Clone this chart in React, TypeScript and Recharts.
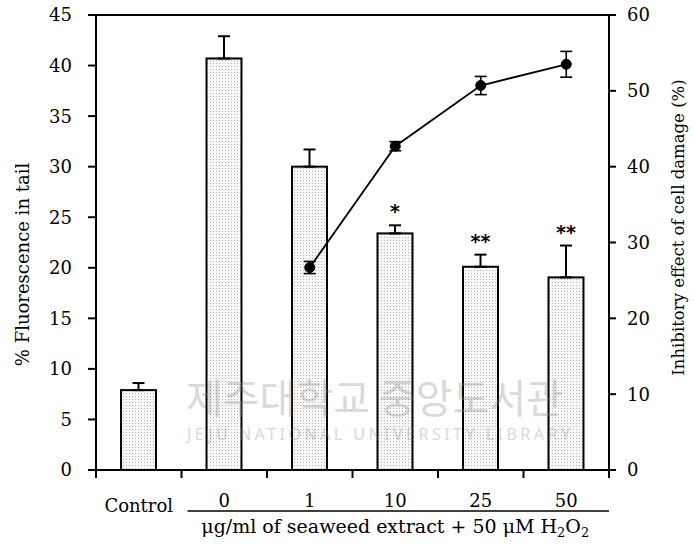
import React from 'react';
import { ComposedChart, Bar, Line, XAxis, YAxis, ErrorBar, ReferenceLine } from 'recharts';

const categories = ['Control', '0', '1', '10', '25', '50'];
const tailValues = [7.9, 40.7, 30.0, 23.4, 20.1, 19.05];
const tailErrors = [0.7, 2.2, 1.7, 0.8, 1.2, 3.15];
const inhibitValues: (number | null)[] = [null, null, 26.7, 42.7, 50.7, 53.5];
const inhibitErrors: (number | null)[] = [null, null, 0.8, 0.6, 1.2, 1.7];
const significance = ['', '', '', '*', '**', '**'];
const leftTicks = [0, 5, 10, 15, 20, 25, 30, 35, 40, 45];
const rightTicks = [0, 10, 20, 30, 40, 50, 60];

const data = categories.map((c, i) => ({
  name: c,
  tail: tailValues[i],
  tailErr: [0, tailErrors[i]],
  inhibit: inhibitValues[i],
  inhibitErr: inhibitErrors[i],
  sig: significance[i],
}));

const FONT = "'DejaVu Serif', serif";
const FS = 18;

const BarShape = (props: any) => {
  const { x, y, width, height, index } = props;
  const v = tailValues[index];
  const perUnit = v ? height / v : 0;
  const errTop = y - tailErrors[index] * perUnit;
  return (
    <g>
      <rect x={x} y={y} width={width} height={height} fill="url(#stipple)" stroke="#000" strokeWidth={2} />
      {significance[index] ? (
        <text x={x + width / 2} y={errTop - 7} textAnchor="middle" style={{ fontFamily: "'DejaVu Sans', sans-serif", fontWeight: 'bold' }} fontSize={19} fill="#000">
          {significance[index]}
        </text>
      ) : null}
    </g>
  );
};

const XTick = (props: any) => {
  const { x, y, payload } = props;
  const isControl = payload.value === 'Control';
  return (
    <text x={x} y={y + (isControl ? 42 : 37)} textAnchor="middle" style={{ fontFamily: FONT }} fontSize={FS} fill="#000">
      {payload.value}
    </text>
  );
};

const XLabel = (props: any) => {
  const vb = props.viewBox || {};
  const x0 = vb.x ?? 96;
  const w = vb.width ?? 513;
  const y0 = vb.y ?? 470;
  const n = categories.length;
  const band = w / n;
  const marks = [];
  for (let i = 0; i <= n; i++) {
    const xx = x0 + band * i;
    marks.push(<line key={i} x1={xx} x2={xx} y1={y0} y2={y0 + 8} stroke="#000" strokeWidth={2} />);
  }
  const lineStart = x0 + band + 6;
  const lineEnd = x0 + w;
  return (
    <g>
      {marks}
      <line x1={lineStart} x2={lineEnd} y1={y0 + 41} y2={y0 + 41} stroke="#000" strokeWidth={1.5} />
      <text x={(x0 + band + lineEnd) / 2} y={y0 + 63} textAnchor="middle" style={{ fontFamily: FONT }} fontSize={19} fill="#000">
        μg/ml of seaweed extract + 50 μM H<tspan fontSize={13} dy={4}>2</tspan><tspan dy={-4}>O</tspan><tspan fontSize={13} dy={4}>2</tspan>
      </text>
    </g>
  );
};

const LeftLabel = (props: any) => {
  const vb = props.viewBox || {};
  const cx = (vb.x ?? 36) - 14;
  const cy = (vb.y ?? 15) + (vb.height ?? 455) / 2 + 22;
  return (
    <text x={cx} y={cy} transform={`rotate(-90 ${cx} ${cy})`} textAnchor="middle" dominantBaseline="central" style={{ fontFamily: FONT }} fontSize={FS} fill="#000">
      % Fluorescence in tail
    </text>
  );
};

const RightLabel = (props: any) => {
  const vb = props.viewBox || {};
  const cx = (vb.x ?? 609) + 69;
  const cy = (vb.y ?? 15) + (vb.height ?? 455) / 2 - 15;
  return (
    <text x={cx} y={cy} transform={`rotate(-90 ${cx} ${cy})`} textAnchor="middle" dominantBaseline="central" style={{ fontFamily: FONT }} fontSize={16.5} fill="#000">
      Inhibitory effect of cell damage (%)
    </text>
  );
};

export default function App() {
  return (
    <div style={{ position: 'absolute', left: 0, top: 0, width: 693, height: 544, background: '#fff', fontFamily: FONT }}>
      <ComposedChart width={693} height={544} data={data} margin={{ top: 15, right: 24, bottom: 0, left: 36 }} style={{ fontFamily: FONT }}>
        <defs>
          <pattern id="stipple" width="3" height="3" patternUnits="userSpaceOnUse">
            <rect width="3" height="3" fill="#f7f7f7" />
            <rect width="1" height="1" fill="#b5b5b5" />
          </pattern>
        </defs>
        <XAxis
          dataKey="name"
          interval={0}
          height={74}
          axisLine={{ stroke: '#000', strokeWidth: 2 }}
          tickLine={false}
          tickSize={0}
          tickMargin={0}
          tick={<XTick />}
          label={<XLabel />}
        />
        <YAxis
          yAxisId="left"
          domain={[0, 45]}
          ticks={leftTicks}
          width={60}
          axisLine={{ stroke: '#000', strokeWidth: 2 }}
          tickLine={{ stroke: '#000', strokeWidth: 2 }}
          tickSize={8}
          tickMargin={16}
          tick={{ fill: '#000', fontSize: FS, style: { fontFamily: FONT } }}
          label={<LeftLabel />}
        />
        <YAxis
          yAxisId="right"
          orientation="right"
          domain={[0, 60]}
          ticks={rightTicks}
          width={60}
          axisLine={{ stroke: '#000', strokeWidth: 2 }}
          tickLine={{ stroke: '#000', strokeWidth: 2 }}
          tickSize={7}
          tickMargin={11}
          tick={{ fill: '#000', fontSize: FS, textAnchor: 'start', style: { fontFamily: FONT } }}
          label={<RightLabel />}
        />
        <ReferenceLine yAxisId="left" y={45} stroke="#000" strokeWidth={2} />
        <Bar yAxisId="left" dataKey="tail" barSize={35} shape={<BarShape />} isAnimationActive={false}>
          <ErrorBar dataKey="tailErr" width={6} stroke="#000" strokeWidth={2} />
        </Bar>
        <Line
          yAxisId="right"
          dataKey="inhibit"
          stroke="#000"
          strokeWidth={1.8}
          dot={{ r: 5, fill: '#000', stroke: '#000', strokeWidth: 1 }}
          activeDot={false}
          isAnimationActive={false}
        >
          <ErrorBar dataKey="inhibitErr" width={6} stroke="#000" strokeWidth={1.6} />
        </Line>
      </ComposedChart>
      <svg width={693} height={544} style={{ position: 'absolute', left: 0, top: 0, pointerEvents: 'none' }}>
        <g opacity={0.32}>
          <text x={186} y={413} textLength={377} lengthAdjust="spacingAndGlyphs" style={{ fontFamily: "'Noto Sans CJK KR', sans-serif" }} fontSize={40} fill="#8a8a8a">
            제주대학교 중앙도서관
          </text>
          <text x={187} y={440} textLength={383} lengthAdjust="spacing" style={{ fontFamily: "'Noto Sans', sans-serif" }} fontSize={16} fill="#8a8a8a">
            JEJU NATIONAL UNIVERSITY  LIBRARY
          </text>
        </g>
      </svg>
    </div>
  );
}
